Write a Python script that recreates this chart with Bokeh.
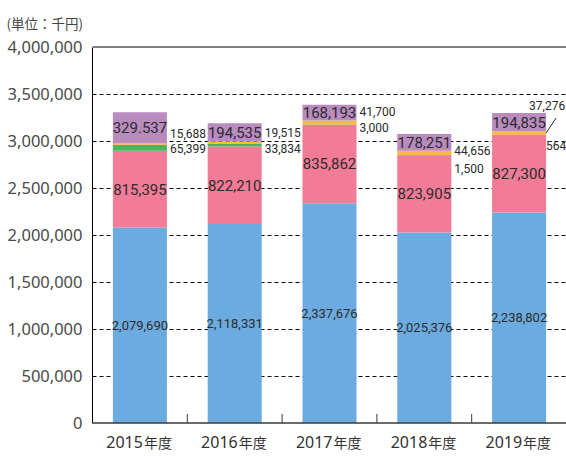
import numpy as np
from bokeh.plotting import figure
from bokeh.models import (Range1d, LinearAxis, FixedTicker, NumeralTickFormatter,
                          ColumnDataSource, Grid, Span)
from bokeh.core.properties import value
from bokeh.embed import file_html
from bokeh.resources import INLINE

# ---------------- data ----------------
years = ["2015", "2016", "2017", "2018", "2019"]
year_suffix = "年度"
blue_vals = [2079690, 2118331, 2337676, 2025376, 2238802]
pink_vals = [815395, 822210, 835862, 823905, 827300]
green_vals = [65399, 33834, 3000, 1500, 564]
orange_vals = [15688, 19515, 41700, 44656, 37276]
purple_vals = [329537, 194535, 168193, 178251, 194835]
blue_labels = ["2,079,690", "2,118,331", "2,337,676", "2,025,376", "2,238,802"]
pink_labels = ["815,395", "822,210", "835,862", "823,905", "827,300"]
green_labels = ["65,399", "33,834", "3,000", "1,500", "564"]
orange_labels = ["15,688", "19,515", "41,700", "44,656", "37,276"]
purple_labels = ["329.537", "194,535", "168,193", "178,251", "194,835"]
y_ticks = [0, 500000, 1000000, 1500000, 2000000, 2500000, 3000000, 3500000, 4000000]
unit_label = "(単位：千円)"

# ---------------- style ----------------
C_BLUE = "#6cabdf"
C_PINK = "#f27c97"
C_GREEN = "#4db45e"
C_ORANGE = "#fcb843"
C_PURPLE = "#b98bbf"
TXT = "#2b2b2b"
AX = "#3a3a3a"
BAR_W = 0.57
W, H = 566, 457
MB_L, MB_T = 92, 45
PX_AXIS = 376.0      # pixels from 0 to the top value
PX_TOP_PAD = 1.5     # pixels above the top value inside the frame
PX_BOTTOM = H - MB_T - PX_AXIS - PX_TOP_PAD   # label area below zero
Y_MAX = y_ticks[-1]
NARROW = value("Roboto")
# label pixel nudges (screen px, + is down / right) for the small side labels
orange_dy = [-10, -9, -9, 0, -26]
orange_dx = [3, 3, 3, 3, -17]
green_dy = [-2, 2, 3, 13, 11]
green_dx = [3, 3, 3, 3, 0]

n = len(years)
xs = np.arange(n) + 0.5
b0 = np.zeros(n)
b1 = b0 + np.array(blue_vals)
p1 = b1 + np.array(pink_vals)
g1 = p1 + np.array(green_vals)
o1 = g1 + np.array(orange_vals)
u1 = o1 + np.array(purple_vals)

px_y = Y_MAX / PX_AXIS
px_x = n / (W - MB_L)

p = figure(width=W, height=H, x_range=Range1d(0, n),
           y_range=Range1d(-PX_BOTTOM * px_y, Y_MAX + PX_TOP_PAD * px_y),
           output_backend="svg", toolbar_location=None,
           x_axis_type=None, y_axis_type=None,
           min_border_left=MB_L, min_border_right=0, min_border_top=MB_T,
           min_border_bottom=0, outline_line_color=None)
p.background_fill_color = "white"
p.border_fill_color = "white"

p.title.text = unit_label
p.title.align = "left"
p.title.offset = -86
p.title.standoff = 21
p.title.vertical_align = "top"
p.title.text_font = "Noto Sans CJK JP"
p.title.text_font_size = "13.5px"
p.title.text_font_style = "normal"
p.title.text_color = "#444444"

# grid
grid = Grid(dimension=1, ticker=FixedTicker(ticks=y_ticks[1:-1]),
            grid_line_color="black", grid_line_dash="4 3", grid_line_width=1)
p.add_layout(grid)

# bars
segments = [(b0, b1, C_BLUE), (b1, p1, C_PINK), (p1, g1, C_GREEN),
            (g1, o1, C_ORANGE), (o1, u1, C_PURPLE)]
for bot, top, col in segments:
    p.vbar(x=xs, bottom=bot, top=top, width=BAR_W, fill_color=col, line_color=None)

# frame lines: top and bottom
p.add_layout(Span(location=Y_MAX, dimension="width", line_color="black", line_width=1))
p.add_layout(Span(location=0, dimension="width", line_color=AX, line_width=1.5))
# ticks between categories, pointing up
bounds = np.arange(1, n)
p.segment(x0=bounds, y0=np.zeros(n - 1), x1=bounds, y1=np.full(n - 1, 9 * px_y),
          line_color=AX, line_width=1)

# in-bar labels
p.text(x=xs, y=(b0 + b1) / 2, text=blue_labels, text_align="center",
       text_baseline="middle", text_font=NARROW, text_font_size="13px",
       text_color=TXT)
p.text(x=xs, y=(b1 + p1) / 2, text=pink_labels, text_align="center",
       text_baseline="middle", text_font=NARROW, text_font_size="15px",
       text_color=TXT)
p.text(x=xs, y=(o1 + u1) / 2, text=purple_labels, text_align="center",
       text_baseline="middle", text_font=NARROW, text_font_size="15px",
       text_color=TXT)

# side labels
side_x = xs + BAR_W / 2
src_o = ColumnDataSource(dict(x=side_x, y=o1, t=orange_labels, dx=orange_dx, dy=orange_dy))
src_g = ColumnDataSource(dict(x=side_x, y=p1, t=green_labels, dx=green_dx, dy=green_dy))
for src in (src_o, src_g):
    p.text(x="x", y="y", text="t", x_offset="dx", y_offset="dy", source=src,
           text_align="left", text_baseline="middle", text_font=NARROW,
           text_font_size="12px", text_color=TXT)

# leader line for the last year's small orange value
i = n - 1
lx0 = side_x[i]
ly0 = (g1[i] + o1[i]) / 2
p.segment(x0=[lx0], y0=[ly0], x1=[lx0 + 10 * px_x], y1=[ly0 + 15 * px_y],
          line_color=TXT, line_width=1)

# category labels under the bars
p.text(x=xs, y=np.zeros(n), text=years, x_offset=3, y_offset=19,
       text_align="right", text_baseline="alphabetic",
       text_font=value("Noto Sans"), text_font_size="16px", text_color="#333333")
p.text(x=xs, y=np.zeros(n), text=[year_suffix] * n, x_offset=4, y_offset=19,
       text_align="left", text_baseline="alphabetic",
       text_font=value("Noto Sans CJK JP"), text_font_size="14px", text_color="#333333")

# y axis
yaxis = LinearAxis(ticker=FixedTicker(ticks=y_ticks), bounds=(0, Y_MAX),
                   formatter=NumeralTickFormatter(format="0,0"),
                   axis_line_color="black", axis_line_width=1,
                   major_tick_line_color=None, major_tick_in=0, major_tick_out=0,
                   minor_tick_line_color=None,
                   major_label_standoff=10,
                   major_label_text_font="Noto Sans",
                   major_label_text_font_size="16.5px",
                   major_label_text_color="#4a4a4a")
p.add_layout(yaxis, "left")

open("out.html", "w").write(file_html(p, INLINE))
